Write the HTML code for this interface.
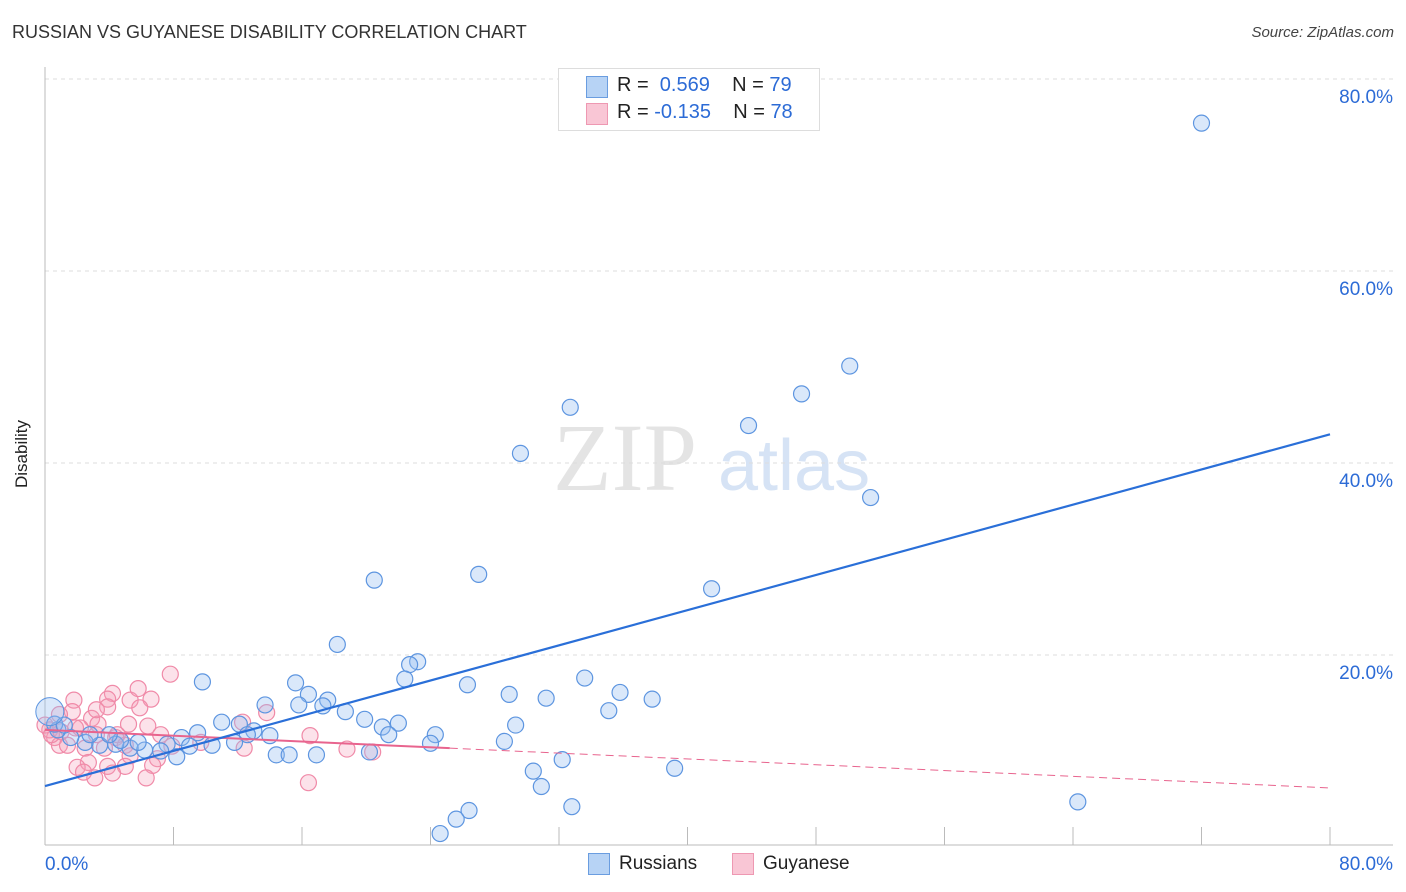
<!DOCTYPE html>
<html><head><meta charset="utf-8"><style>
body{margin:0;background:#fff;font-family:"Liberation Sans",sans-serif}
#wrap{position:relative;width:1406px;height:892px;overflow:hidden}
.t{position:absolute;white-space:nowrap}
</style></head><body>
<div id="wrap">
<div class="t" style="left:12px;top:22px;font-size:18px;color:#333">RUSSIAN VS GUYANESE DISABILITY CORRELATION CHART</div>
<div class="t" style="right:12px;top:24px;font-size:15px;font-style:italic;color:#444">Source: ZipAtlas.com</div>
<div class="t" style="left:-12px;top:444px;font-size:17px;color:#222;transform:rotate(-90deg)">Disability</div>
<svg id="svg" width="1406" height="892" style="position:absolute;left:0;top:0"></svg>
<div style="position:absolute;left:558px;top:68px;width:260px;height:61px;border:1px solid #ddd;background:#fff">
 <div style="position:absolute;left:27px;top:7px;width:20px;height:20px;background:#b7d3f5;border:1px solid #6a9de0"></div>
 <div class="t" style="left:58px;top:5px;font-size:20px;color:#222">R = <span style="color:#2c6bd6">&nbsp;0.569</span>&nbsp;&nbsp;&nbsp;&nbsp;N = <span style="color:#2c6bd6">79</span></div>
 <div style="position:absolute;left:27px;top:34px;width:20px;height:20px;background:#f9c6d5;border:1px solid #ee98b2"></div>
 <div class="t" style="left:58px;top:32px;font-size:20px;color:#222">R = <span style="color:#2c6bd6">-0.135</span>&nbsp;&nbsp;&nbsp;&nbsp;N = <span style="color:#2c6bd6">78</span></div>
</div>
<div style="position:absolute;left:588px;top:853px">
 <div style="position:absolute;left:0;top:0;width:20px;height:20px;background:#b7d3f5;border:1px solid #6a9de0"></div>
 <div class="t" style="left:31px;top:0;font-size:19px;color:#222">Russians</div></div>
<div style="position:absolute;left:732px;top:853px">
 <div style="position:absolute;left:0;top:0;width:20px;height:20px;background:#f9c6d5;border:1px solid #ee98b2"></div>
 <div class="t" style="left:31px;top:0;font-size:19px;color:#222">Guyanese</div></div>
</div>
<script>
const yTicks=[20,40,60,80];
const xTickLabels=["0.0%","80.0%"];
const russiansX=[72.0,50.1,47.1,43.8,32.7,29.6,51.4,20.5,27.0,41.5,18.2,23.2,22.7,22.4,9.8,15.6,26.3,33.6,35.8,37.8,31.2,28.9,16.4,17.6,13.7,15.8,17.3,18.7,35.1,19.9,22.0,11.0,12.1,29.3,21.0,21.4,24.3,9.5,13.0,14.0,8.5,12.6,24.0,28.6,11.8,10.4,9.0,7.6,7.2,6.2,5.3,4.4,3.4,2.5,1.6,0.8,0.6,14.4,15.2,16.9,8.2,20.2,30.4,32.2,39.2,30.9,32.8,64.3,26.4,25.6,24.6,4.7,1.2,2.8,4.0,5.8];
const russiansY=[75.4,50.1,47.2,43.9,45.8,41.0,36.4,27.8,28.4,26.9,21.1,19.3,19.0,17.5,17.2,17.1,16.9,17.6,16.1,15.4,15.5,15.9,15.9,15.3,14.8,14.8,14.7,14.1,14.2,13.3,12.9,13.0,12.8,12.7,12.5,11.7,11.7,11.9,12.1,11.6,11.4,11.7,10.8,11.0,10.9,10.6,10.5,10.7,10.0,10.1,10.3,10.7,10.6,10.9,11.4,12.2,12.8,9.6,9.6,9.6,9.4,9.9,7.9,9.1,8.2,6.3,4.2,4.7,3.8,2.9,1.4,11.1,12.7,11.7,11.7,10.9];
const guyX=[7.8,1.8,6.6,4.2,3.9,5.3,5.8,5.9,3.9,1.7,2.9,0.9,13.8,12.3,6.4,5.2,3.3,2.2,3.2,4.4,16.5,0.6,0.9,1.4,2.5,3.7,5.0,7.9,12.4,18.8,20.4,5.3,7.0,2.7,2.0,3.9,5.0,6.7,3.1,4.2,6.3,2.4,16.4,0.3,0.0,0.4,1.0,1.9,4.5,7.2,9.7,3.2];
const guyY=[18.0,15.3,15.4,16.0,15.4,15.3,16.5,14.5,14.6,14.1,13.4,13.8,14.0,13.0,12.6,12.8,12.8,12.4,11.7,11.4,11.6,11.4,10.6,10.6,10.3,10.3,10.6,10.5,10.3,10.2,9.9,9.5,9.2,8.8,8.3,8.4,8.4,8.5,7.2,7.7,7.2,7.8,6.7,12.2,12.7,11.7,12.0,12.4,11.7,11.7,10.9,14.3];
const russTrend=[6.35,42.99];
const guyTrend=[12.2,6.15];
const NS="http://www.w3.org/2000/svg";
const svg=document.getElementById('svg');
const X=v=>45+v*1285/80, Y=v=>847-v*9.6;
function mk(t,a){const e=document.createElementNS(NS,t);for(const k in a)e.setAttribute(k,a[k]);svg.appendChild(e);return e;}
// watermark
let w=mk('text',{x:553,y:490,'font-size':96,'font-family':'Liberation Serif',fill:'#e4e4e4'});w.textContent='ZIP';


let w2=mk('text',{x:718,y:490,'font-size':72,'font-family':'Liberation Sans',fill:'#d6e3f5'});w2.textContent='atlas';


yTicks.forEach(v=>{
 const g=mk('line',{x1:45,x2:1393,y1:Y(v),y2:Y(v),stroke:'#ddd','stroke-dasharray':'4,4'});
 
 
 const t=mk('text',{x:1393,y:Y(v)+24,'text-anchor':'end','font-size':19,fill:'#2c6bd6','font-family':'Liberation Sans'});t.textContent=v.toFixed(1)+'%';
 
 
});
const ax=mk('line',{x1:45,x2:1393,y1:845,y2:845,stroke:'#bbb'});


const ay=mk('line',{x1:45,x2:45,y1:67,y2:845,stroke:'#bbb'});


for(let i=1;i<=10;i++){const t=mk('line',{x1:X(i*8),x2:X(i*8),y1:827,y2:845,stroke:'#bbb'});
 
 }
[[0,'start',45],[80,'end',1393]].forEach((p,i)=>{const t=mk('text',{x:p[2],y:870,'text-anchor':p[1],'font-size':19,fill:'#2c6bd6','font-family':'Liberation Sans'});t.textContent=xTickLabels[i];
 
 });
guyX.forEach((x,i)=>{const c=mk('circle',{cx:X(x),cy:Y(guyY[i]),r:8,fill:'rgba(246,160,185,0.3)',stroke:'#f08aa8','stroke-width':1.2});
 
 });
russiansX.forEach((x,i)=>{const c=mk('circle',{cx:X(x),cy:Y(russiansY[i]),r:(i==56?8:8),fill:'rgba(150,190,240,0.35)',stroke:'#5d95e0','stroke-width':1.2});
 
 });
const big=mk('circle',{cx:X(0.3),cy:Y(14.1),r:14,fill:'rgba(150,190,240,0.35)',stroke:'#5d95e0'});


const gx=25.2, gyAt=v=>guyTrend[0]+(guyTrend[1]-guyTrend[0])*v/80;
const l1=mk('line',{x1:X(0),y1:Y(guyTrend[0]),x2:X(gx),y2:Y(gyAt(gx)),stroke:'#e8648e','stroke-width':2});


const l2=mk('line',{x1:X(gx),y1:Y(gyAt(gx)),x2:X(80),y2:Y(guyTrend[1]),stroke:'#e8648e','stroke-width':1,'stroke-dasharray':'8,5'});


const l3=mk('line',{x1:X(0),y1:Y(russTrend[0]),x2:X(80),y2:Y(russTrend[1]),stroke:'#2a6fd8','stroke-width':2.2});


</script>
</body></html>
